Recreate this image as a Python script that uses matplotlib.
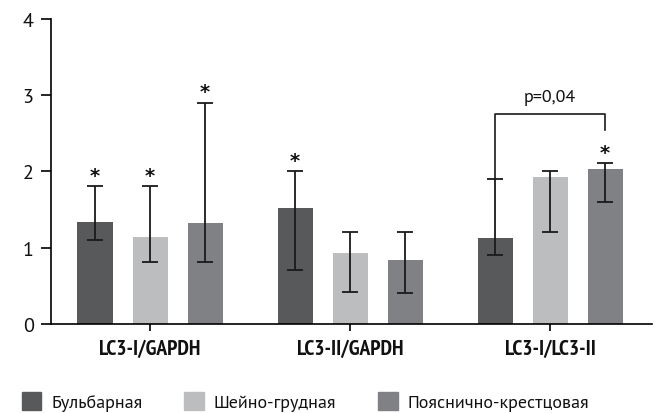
import matplotlib.pyplot as plt
import numpy as np
from matplotlib.patches import Patch

groups = ['LC3-I/GAPDH', 'LC3-II/GAPDH', 'LC3-I/LC3-II']
series = ['Бульбарная', 'Шейно-грудная', 'Пояснично-крестцовая']
colors = ['#58595b', '#bcbdbf', '#808184']

# bar heights per series (one value per group)
values = [
    [1.34, 1.52, 1.13],
    [1.145, 0.93, 1.93],
    [1.32, 0.84, 2.03],
]
# lower / upper ends of the error bars
err_low = [
    [1.10, 0.71, 0.905],
    [0.81, 0.415, 1.21],
    [0.81, 0.41, 1.60],
]
err_high = [
    [1.81, 2.00, 1.90],
    [1.81, 1.21, 2.01],
    [2.90, 1.21, 2.11],
]
# which bars get a significance star
stars = [
    [True, True, False],
    [True, False, False],
    [True, False, True],
]
p_text = 'p=0,04'

plt.rcParams['font.family'] = ['PT Sans', 'Open Sans', 'DejaVu Sans']
plt.rcParams['text.color'] = '#111111'

fig = plt.figure(figsize=(6.58, 4.14), dpi=100)
ax = fig.add_axes([0.0775, 0.215, 0.9135, 0.737])

x = np.arange(len(groups))
offset = 0.275
width = 0.175

for i in range(len(series)):
    xs = x + (i - 1) * offset
    vals = np.array(values[i])
    lo = vals - np.array(err_low[i])
    hi = np.array(err_high[i]) - vals
    ax.bar(xs, vals, width, color=colors[i], zorder=2)
    ax.errorbar(xs, vals, yerr=[lo, hi], fmt='none', ecolor='#1a1a1a',
                elinewidth=1.3, capsize=5.5, capthick=1.3, zorder=3)
    for j in range(len(groups)):
        if stars[i][j]:
            ax.annotate('*', (xs[j], err_high[i][j]), xytext=(0, 1),
                        textcoords='offset points', ha='center', va='bottom',
                        fontsize=14, fontweight='bold', family='DejaVu Sans')

# bracket between the first and third bars of the last group
x1 = x[2] - offset
x2 = x[2] + offset
y_top = 2.75
ax.plot([x1, x1, x2, x2], [err_high[0][2], y_top, y_top, 2.54],
        color='#1a1a1a', lw=1.2, zorder=3)
ax.text((x1 + x2) / 2, y_top + 0.12, p_text, ha='center', va='bottom', fontsize=13)

ax.set_xlim(-0.495, 2.51)
ax.set_ylim(0, 4)
ax.set_yticks([0, 1, 2, 3, 4])
ax.set_xticks(x)
ax.set_xticklabels(groups, fontweight='bold', fontsize=15.5,
                   family=['PT Sans Narrow', 'Open Sans Condensed', 'DejaVu Sans'])
ax.tick_params(axis='y', labelsize=14.5, length=7.5, width=1.2, pad=5,
               labelcolor='#111111')
ax.tick_params(axis='x', length=5, width=1.2, pad=6, labelcolor='#111111')
for s in ['top', 'right']:
    ax.spines[s].set_visible(False)
ax.spines['left'].set_linewidth(1.2)
ax.spines['bottom'].set_linewidth(1.2)

handles = [Patch(color=c) for c in colors]
fig.legend(handles, series, loc='center left', bbox_to_anchor=(0.019, 0.027),
           ncol=3, frameon=False, fontsize=13, borderpad=0, handlelength=1.1,
           handleheight=1.1, handletextpad=0.55, columnspacing=2.3)

fig.savefig('out.png', dpi=100)
